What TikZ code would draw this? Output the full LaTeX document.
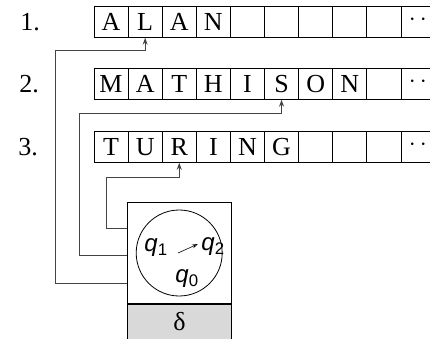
\documentclass[tikz,border=0pt]{standalone}
\usepackage{fontspec}
\setmainfont{Liberation Serif}
\newfontfamily\statefont{Liberation Sans}
\usetikzlibrary{arrows.meta, positioning, calc}
\definecolor{cline}{HTML}{444444}
\definecolor{cgrey}{HTML}{D9D9D9}
\tikzset{
  every picture/.style={line width=0.8pt},
  cell/.style={draw, minimum width=34.1pt, minimum height=30.6pt, inner sep=0pt,
    text height=17pt, text depth=0pt, font=\fontsize{26}{30}\selectfont},
  numlabel/.style={inner sep=0pt, text height=17pt, text depth=0pt, font=\fontsize{26}{30}\selectfont},
  conn/.style={draw=cline, line width=0.9pt, -{Stealth[open, length=7pt, width=5pt]}},
  qlabel/.style={inner sep=0pt, font=\statefont\itshape\fontsize{24}{28}\selectfont},
}

\begin{document}
\begin{tikzpicture}[x=1pt, y=-1pt]
  \useasboundingbox (0,0) rectangle (430,339);
  % tapes
  \foreach \w [count=\i] in {A,L,A,N,{},{},{},{},{},{}}
    \node[cell] (t1c\i) at ({94+34.1*(\i-0.5)},22) {\w};
  \foreach \w [count=\i] in {M,A,T,H,I,S,O,N,{},{}}
    \node[cell] (t2c\i) at ({94+34.1*(\i-0.5)},84) {\w};
  \foreach \w [count=\i] in {T,U,R,I,N,G,{},{},{},{}}
    \node[cell] (t3c\i) at ({94+34.1*(\i-0.5)},147) {\w};
  \foreach \t in {1,2,3}
    \node[anchor=west, inner sep=0pt, font=\fontsize{26}{30}\selectfont] (dots\t) at ([xshift=8pt,yshift=2pt]t\t c10.west) {$\cdots$};
  \node[numlabel] (n1) at (30,22) {1.};
  \node[numlabel] (n2) at (29,84) {2.};
  \node[numlabel] (n3) at (28,147) {3.};
  % control unit
  \node[draw, minimum width=103.7pt, minimum height=101.6pt, inner sep=0pt, anchor=north west] (head) at (127.3,201.7) {};
  \node[draw, fill=cgrey, minimum width=103.7pt, minimum height=35pt, inner sep=0pt, anchor=north,
    font=\fontsize{26}{30}\selectfont] (delta) at (head.south) {δ};
  \node[draw, circle, minimum size=86pt, inner sep=0pt] (states) at (179.2,253) {};
  \node[qlabel] (q1) at (156,248) {q\textsubscript{\upshape 1}};
  \node[qlabel] (q2) at (213,247) {q\textsubscript{\upshape 2}};
  \node[qlabel] (q0) at (187,279) {q\textsubscript{\upshape 0}};
  \coordinate (a0) at (178,253);
  \coordinate (a1) at (198,244);
  \draw[line width=0.6pt, -{Stealth[open, length=6pt, width=4pt]}] (a0) -- (a1);
  % heads
  \coordinate (bend1) at (55,50);
  \coordinate (bend2) at (79,113);
  \coordinate (bend3) at (106,177);
  \draw[conn] ($(head.north west)!0.80!(head.south west)$) -| (bend1) -| (t1c2.south);
  \draw[conn] ($(head.north west)!0.52!(head.south west)$) -| (bend2) -| (t2c6.south);
  \draw[conn] ($(head.north west)!0.26!(head.south west)$) -| (bend3) -| (t3c3.south);
\end{tikzpicture}
\end{document}
